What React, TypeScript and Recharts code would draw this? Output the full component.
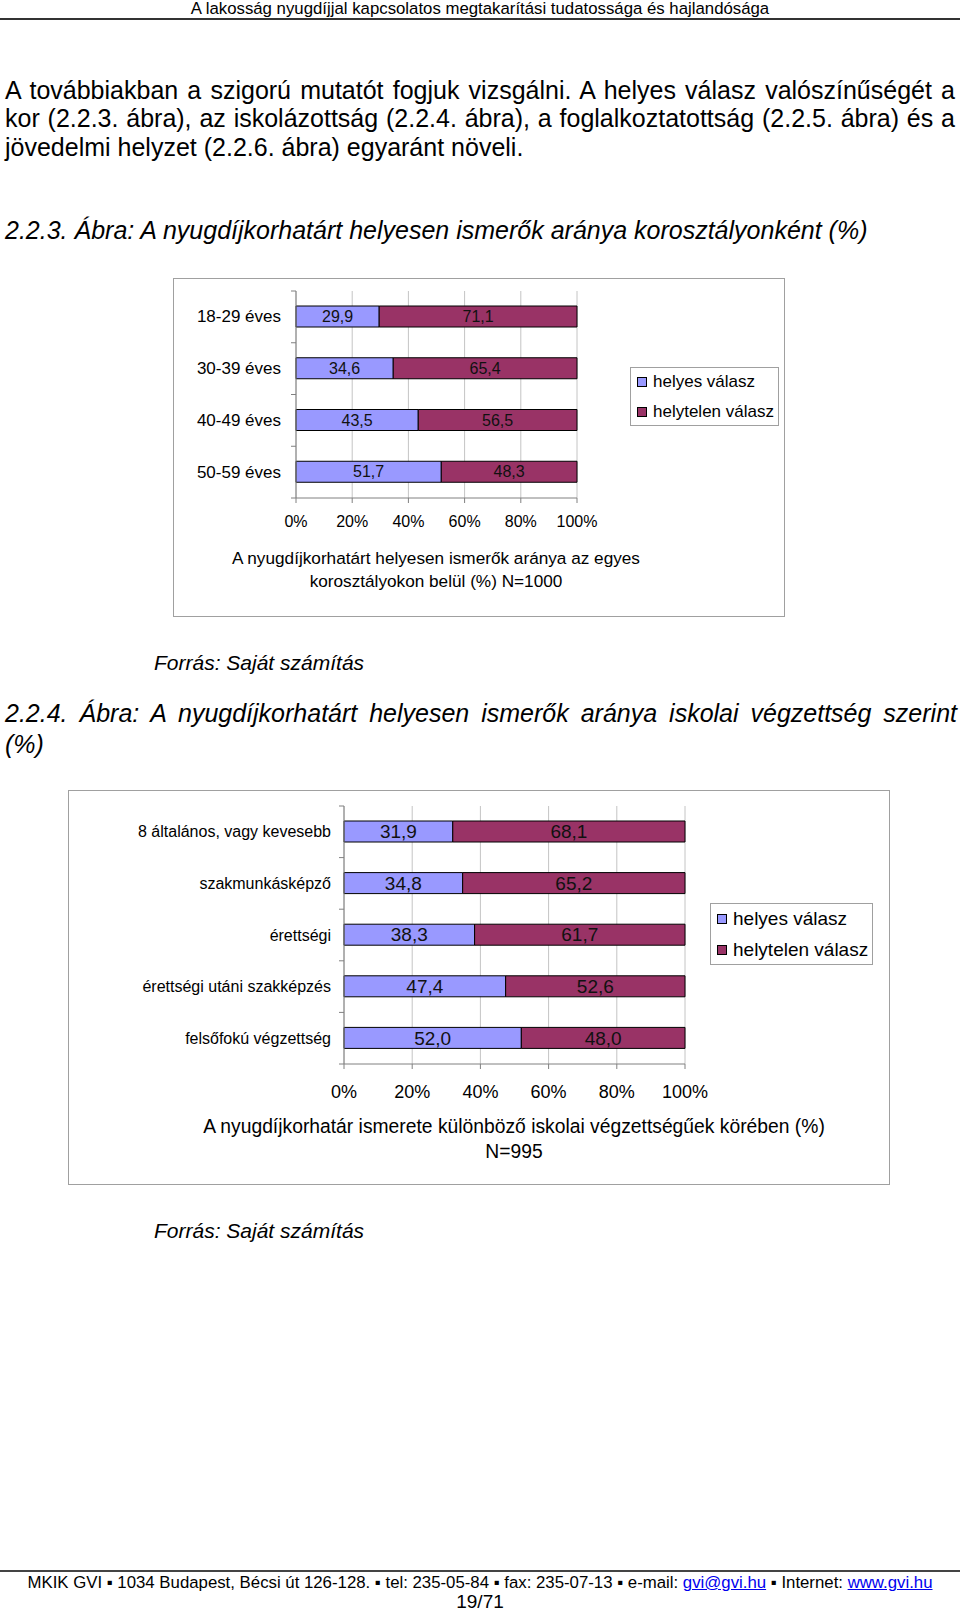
import React from 'react';
import { BarChart, Bar, XAxis, YAxis, CartesianGrid, Legend, LabelList } from 'recharts';

const ageGroups = ['18-29 éves', '30-39 éves', '40-49 éves', '50-59 éves'];
const ageCorrect = [29.9, 34.6, 43.5, 51.7];
const ageWrong = [71.1, 65.4, 56.5, 48.3];

const eduGroups = [
  '8 általános, vagy kevesebb',
  'szakmunkásképző',
  'érettségi',
  'érettségi utáni szakképzés',
  'felsőfokú végzettség',
];
const eduCorrect = [31.9, 34.8, 38.3, 47.4, 52.0];
const eduWrong = [68.1, 65.2, 61.7, 52.6, 48.0];

const seriesNames = ['helyes válasz', 'helytelen válasz'];
const percentTicks = [0, 0.2, 0.4, 0.6, 0.8, 1];

const BLUE = '#9999FF';
const MAROON = '#993366';
const FONT = '"Liberation Sans", Arial, Helvetica, sans-serif';

const fmt = (v: any) => Number(v).toFixed(1).replace('.', ',');

function LegendBox({ fontSize, width, height, padTop, gap }: { fontSize: number; width: number; height: number; padTop: number; gap: number }) {
  const colors = [BLUE, MAROON];
  return (
    <div
      style={{
        width,
        height,
        boxSizing: 'border-box',
        border: '1px solid #a0a0a0',
        background: '#fff',
        display: 'flex',
        flexDirection: 'column',
        gap,
        padding: `${padTop}px 0 0 6px`,
        fontFamily: FONT,
        fontSize,
        lineHeight: `${fontSize}px`,
        color: '#000',
      }}
    >
      {seriesNames.map((n, i) => (
        <div key={n} style={{ display: 'flex', alignItems: 'center', whiteSpace: 'nowrap', height: fontSize }}>
          <span
            style={{
              display: 'inline-block',
              width: 8,
              height: 8,
              border: '1px solid #000',
              background: colors[i],
              marginRight: 6,
            }}
          />
          {n}
        </div>
      ))}
    </div>
  );
}

interface ChartProps {
  groups: string[];
  correct: number[];
  wrong: number[];
  width: number;
  height: number;
  margin: { top: number; right: number; bottom: number; left: number };
  yWidth: number;
  plotHeight: number;
  catFont: number;
  catGap: number;
  labelFont: number;
  tickFont: number;
  tickMargin: number;
  legendPos: { left: number; top: number; width: number; height: number; font: number; padTop: number; gap: number };
}

function StackedChart(p: ChartProps) {
  const data = p.groups.map((name, i) => ({ name, helyes: p.correct[i], helytelen: p.wrong[i] }));
  const band = p.plotHeight / p.groups.length;

  const yTick = (t: any) => {
    const axisX = t.x + p.catGap;
    return (
      <g>
        <text
          x={t.x}
          y={t.y}
          textAnchor="end"
          dominantBaseline="central"
          fontSize={p.catFont}
          fontFamily={FONT}
          fill="#000"
        >
          {t.payload.value}
        </text>
        <line x1={axisX - 5} x2={axisX} y1={t.y - band / 2} y2={t.y - band / 2} stroke="#808080" />
        {t.index === p.groups.length - 1 && (
          <line x1={axisX - 5} x2={axisX} y1={t.y + band / 2} y2={t.y + band / 2} stroke="#808080" />
        )}
      </g>
    );
  };

  return (
    <BarChart
      width={p.width}
      height={p.height}
      data={data}
      layout="vertical"
      stackOffset="expand"
      margin={p.margin}
      barSize={21}
    >
      <CartesianGrid horizontal={false} stroke="#c4c4c4" />
      <XAxis
        type="number"
        domain={[0, 1]}
        ticks={percentTicks}
        tickFormatter={(v) => `${Math.round(v * 100)}%`}
        height={30}
        tickSize={5}
        tickMargin={p.tickMargin}
        stroke="#808080"
        tick={{ fill: '#000', fontSize: p.tickFont, fontFamily: FONT }}
      />
      <YAxis
        type="category"
        dataKey="name"
        width={p.yWidth}
        tickLine={false}
        tickSize={0}
        tickMargin={p.catGap}
        stroke="#808080"
        tick={yTick}
        interval={0}
      />
      <Legend
        layout="vertical"
        align="center"
        verticalAlign="middle"
        wrapperStyle={{ left: p.legendPos.left, top: p.legendPos.top, width: p.legendPos.width }}
        content={() => (
          <LegendBox
            fontSize={p.legendPos.font}
            width={p.legendPos.width}
            height={p.legendPos.height}
            padTop={p.legendPos.padTop}
            gap={p.legendPos.gap}
          />
        )}
      />
      <Bar dataKey="helyes" stackId="a" fill={BLUE} stroke="#000" strokeWidth={1} isAnimationActive={false}>
        <LabelList
          dataKey="helyes"
          position="center"
          formatter={fmt}
          fill="#111"
          fontSize={p.labelFont}
          fontFamily={FONT}
        />
      </Bar>
      <Bar dataKey="helytelen" stackId="a" fill={MAROON} stroke="#000" strokeWidth={1} isAnimationActive={false}>
        <LabelList
          dataKey="helytelen"
          position="center"
          formatter={fmt}
          fill="#111"
          fontSize={p.labelFont}
          fontFamily={FONT}
        />
      </Bar>
    </BarChart>
  );
}

const abs = (left: number, top: number, extra: React.CSSProperties = {}): React.CSSProperties => ({
  position: 'absolute',
  left,
  top,
  whiteSpace: 'nowrap',
  ...extra,
});

export default function App() {
  const para: React.CSSProperties = { fontSize: 25, lineHeight: '28px' };
  const justify: React.CSSProperties = { textAlign: 'justify', textAlignLast: 'justify', whiteSpace: 'normal' };
  return (
    <div
      style={{
        position: 'absolute',
        left: 0,
        top: 0,
        width: 960,
        height: 1613,
        background: '#fff',
        fontFamily: FONT,
        color: '#000',
        overflow: 'hidden',
      }}
    >
      {/* header */}
      <div style={abs(0, 0, { width: 960, textAlign: 'center', fontSize: 16.8, lineHeight: '17px' })}>
        A lakosság nyugdíjjal kapcsolatos megtakarítási tudatossága és hajlandósága
      </div>
      <div style={abs(0, 18, { width: 960, height: 2, background: '#333' })} />

      {/* paragraph */}
      <div style={abs(5, 75.5, { ...para, ...justify, width: 950 })}>
        A továbbiakban a szigorú mutatót fogjuk vizsgálni. A helyes válasz valószínűségét a
      </div>
      <div style={abs(5, 104, { ...para, ...justify, width: 950 })}>
        kor (2.2.3. ábra), az iskolázottság (2.2.4. ábra), a foglalkoztatottság (2.2.5. ábra) és a
      </div>
      <div style={abs(5, 133, para)}>jövedelmi helyzet (2.2.6. ábra) egyaránt növeli.</div>

      {/* figure 1 */}
      <div style={abs(5, 215.5, { ...para, fontStyle: 'italic' })}>
        2.2.3. Ábra: A nyugdíjkorhatárt helyesen ismerők aránya korosztályonként (%)
      </div>
      <div
        style={abs(173, 278, {
          width: 612,
          height: 339,
          boxSizing: 'border-box',
          border: '1px solid #a0a0a0',
        })}
      />
      <div style={abs(173, 278)}>
        <StackedChart
          groups={ageGroups}
          correct={ageCorrect}
          wrong={ageWrong}
          width={612}
          height={339}
          margin={{ top: 13, right: 208, bottom: 89, left: 0 }}
          yWidth={123}
          plotHeight={207}
          catFont={17}
          catGap={15}
          labelFont={16}
          tickFont={16}
          tickMargin={13}
          legendPos={{ left: 457, top: 89, width: 149, height: 59, font: 17, padTop: 5, gap: 13 }}
        />
      </div>
      <div style={abs(173, 547, { width: 526, textAlign: 'center', fontSize: 17.2, lineHeight: '23px' })}>
        A nyugdíjkorhatárt helyesen ismerők aránya az egyes
        <br />
        korosztályokon belül (%) N=1000
      </div>
      <div style={abs(154, 651, { fontSize: 21, lineHeight: '24px', fontStyle: 'italic' })}>
        Forrás: Saját számítás
      </div>

      {/* figure 2 */}
      <div style={abs(5, 699, { ...para, ...justify, width: 952, fontStyle: 'italic' })}>
        2.2.4. Ábra: A nyugdíjkorhatárt helyesen ismerők aránya iskolai végzettség szerint
      </div>
      <div style={abs(5, 730, { ...para, fontStyle: 'italic' })}>(%)</div>
      <div
        style={abs(68, 790, {
          width: 822,
          height: 395,
          boxSizing: 'border-box',
          border: '1px solid #a0a0a0',
        })}
      />
      <div style={abs(68, 790)}>
        <StackedChart
          groups={eduGroups}
          correct={eduCorrect}
          wrong={eduWrong}
          width={822}
          height={395}
          margin={{ top: 16, right: 205, bottom: 91, left: 0 }}
          yWidth={276}
          plotHeight={258}
          catFont={16}
          catGap={13}
          labelFont={19}
          tickFont={18}
          tickMargin={16}
          legendPos={{ left: 642, top: 113, width: 163, height: 62, font: 19, padTop: 5, gap: 12 }}
        />
      </div>
      <div style={abs(114, 1114, { width: 800, textAlign: 'center', fontSize: 19.3, lineHeight: '25px' })}>
        A nyugdíjkorhatár ismerete különböző iskolai végzettségűek körében (%)
        <br />
        N=995
      </div>
      <div style={abs(154, 1219, { fontSize: 21, lineHeight: '24px', fontStyle: 'italic' })}>
        Forrás: Saját számítás
      </div>

      {/* footer */}
      <div style={abs(0, 1570, { width: 960, height: 2, background: '#444' })} />
      <div style={abs(0, 1574, { width: 960, textAlign: 'center', fontSize: 16.8, lineHeight: '18px' })}>
        MKIK GVI ▪ 1034 Budapest, Bécsi út 126-128. ▪ tel: 235-05-84 ▪ fax: 235-07-13 ▪ e-mail:{' '}
        <span style={{ color: '#0000ee', textDecoration: 'underline' }}>gvi@gvi.hu</span> ▪ Internet:{' '}
        <span style={{ color: '#0000ee', textDecoration: 'underline' }}>www.gvi.hu</span>
      </div>
      <div style={abs(0, 1592, { width: 960, textAlign: 'center', fontSize: 19, lineHeight: '20px' })}>
        19/71
      </div>
    </div>
  );
}
